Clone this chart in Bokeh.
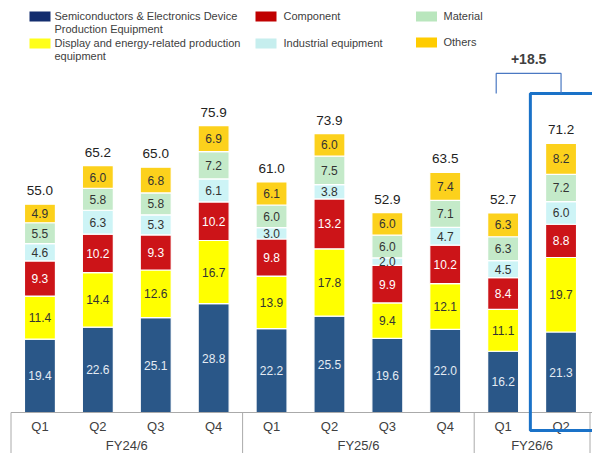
from bokeh.plotting import figure
from bokeh.models import Range1d, ColumnDataSource
from bokeh.core.properties import value
from bokeh.embed import file_html
from bokeh.resources import INLINE

# ---------------- data ----------------
quarters = ["Q1", "Q2", "Q3", "Q4", "Q1", "Q2", "Q3", "Q4", "Q1", "Q2"]
fiscal_years = ["FY24/6", "FY25/6", "FY26/6"]
fy_of_bar = [0, 0, 0, 0, 1, 1, 1, 1, 2, 2]

series_names = [
    "Semiconductors & Electronics Device\nProduction Equipment",
    "Display and energy-related production\nequipment",
    "Component",
    "Industrial equipment",
    "Material",
    "Others",
]
semiconductors = [19.4, 22.6, 25.1, 28.8, 22.2, 25.5, 19.6, 22.0, 16.2, 21.3]
display_energy = [11.4, 14.4, 12.6, 16.7, 13.9, 17.8, 9.4, 12.1, 11.1, 19.7]
component = [9.3, 10.2, 9.3, 10.2, 9.8, 13.2, 9.9, 10.2, 8.4, 8.8]
industrial = [4.6, 6.3, 5.3, 6.1, 3.0, 3.8, 2.0, 4.7, 4.5, 6.0]
material = [5.5, 5.8, 5.8, 7.2, 6.0, 7.5, 6.0, 7.1, 6.3, 7.2]
others = [4.9, 6.0, 6.8, 6.9, 6.1, 6.0, 6.0, 7.4, 6.3, 8.2]
totals = [55.0, 65.2, 65.0, 75.9, 61.0, 73.9, 52.9, 63.5, 52.7, 71.2]
change_label = "+18.5"
highlight_index = 9
compare_index = 8

# ---------------- style ----------------
bar_colors = ["#2a5788", "#ffff00", "#cc1418", "#cdf4f6", "#c4eac9", "#fcd11c"]
swatch_colors = ["#132d6e", "#ffff1a", "#c00000", "#c6eeee", "#b9e6bd", "#ffcc00"]
label_colors = ["#e4ebf3", "#333333", "#ffffff", "#333333", "#333333", "#333333"]
FONT = value("Liberation Sans")
TXT = "#404040"

W, H = 592, 453
PX_X = 57.9          # px per category
PX_Y = 3.78          # px per unit
X0_PX = 10.5 + 0.5 * PX_X
BASE_PX = 412
x_start = -X0_PX / PX_X
x_end = (W - X0_PX) / PX_X
y_end = BASE_PX / PX_Y
y_start = -(H - BASE_PX) / PX_Y


def dx(px):
    return x_start + px / PX_X


def dy(py):
    return y_end - py / PX_Y


p = figure(width=W, height=H, x_range=Range1d(x_start, x_end),
           y_range=Range1d(y_start, y_end), output_backend="svg",
           toolbar_location=None, x_axis_location=None, y_axis_location=None,
           min_border=0)
p.grid.visible = False
p.outline_line_color = None
p.background_fill_color = "white"
p.border_fill_color = "white"

xs = list(range(len(quarters)))
series = [semiconductors, display_energy, component, industrial, material, others]
keys = ["s%d" % i for i in range(len(series))]
src = ColumnDataSource(dict(x=xs, **{k: v for k, v in zip(keys, series)}))
p.vbar_stack(keys, x="x", width=0.535, color=bar_colors, source=src,
             line_color="white", line_width=1.2)

# segment labels
bottom = [0.0] * len(xs)
for vals, col in zip(series, label_colors):
    mids = [b + v / 2 for b, v in zip(bottom, vals)]
    p.text(x=xs, y=mids, text=["%.1f" % v for v in vals], text_align="center",
           text_baseline="middle", text_font=FONT, text_font_size="12px",
           text_color=col)
    bottom = [b + v for b, v in zip(bottom, vals)]

# totals
p.text(x=xs, y=bottom, text=["%.1f" % t for t in totals], text_align="center",
       text_baseline="bottom", y_offset=-9, text_font=FONT,
       text_font_size="13.5px", text_color="#222222")

# category axis
p.segment(x0=[-0.5], y0=[0], x1=[x_end], y1=[0], line_color="#aaaaaa", line_width=1)
bounds = [-0.5] + [i + 0.5 for i in range(len(xs) - 1) if fy_of_bar[i] != fy_of_bar[i + 1]] + [len(xs) - 0.5]
p.segment(x0=bounds, y0=[0] * len(bounds), x1=bounds, y1=[y_start] * len(bounds),
          line_color="#aaaaaa", line_width=1)
p.text(x=xs, y=[dy(426)] * len(xs), text=quarters, text_align="center",
       text_baseline="middle", text_font=FONT, text_font_size="13px", text_color=TXT)
fy_x = [sum(i for i in xs if fy_of_bar[i] == k) / fy_of_bar.count(k) for k in range(len(fiscal_years))]
p.text(x=fy_x, y=[dy(445)] * len(fy_x), text=fiscal_years, text_align="center",
       text_baseline="middle", text_font=FONT, text_font_size="13px", text_color=TXT)

# highlight box for latest quarter
hl_top = totals[highlight_index] + 13.2
hl_bottom = dy(430)
hl_left = highlight_index - 0.53
hl_right = x_end + 0.2
p.quad(left=[hl_left], right=[hl_right], top=[hl_top], bottom=[hl_bottom],
       fill_color=None, line_color="#1a72c8", line_width=3)

# bracket with change
br_top = hl_top + 5.3
br_l = compare_index - 0.12
br_r = float(highlight_index)
p.line(x=[br_l, br_l, br_r, br_r], y=[hl_top, br_top, br_top, hl_top],
       line_color="#4a78c2", line_width=1.2)
p.text(x=[(br_l + br_r) / 2], y=[br_top], text=[change_label], text_align="center",
       text_baseline="bottom", y_offset=-9, text_font=FONT, text_font_size="14px",
       text_font_style="bold", text_color=TXT)

# legend (manual, 3 columns x 2 rows)
leg_sw_x = [39.5, 39.5, 265.5, 265.5, 426, 426]
leg_sw_y = [16, 43, 16, 43, 16, 42]
leg_tx_x = [54, 54, 283, 283, 443, 443]
order = [0, 1, 2, 3, 4, 5]
p.rect(x=[dx(v) for v in leg_sw_x], y=[dy(v) for v in leg_sw_y], width=21, height=10,
       width_units="screen", height_units="screen",
       fill_color=[swatch_colors[i] for i in order], line_color=None)
lx, ly, lt = [], [], []
for k, i in enumerate(order):
    for j, line in enumerate(series_names[i].split("\n")):
        lx.append(dx(leg_tx_x[k]))
        ly.append(dy(leg_sw_y[k] - 1 + 13 * j))
        lt.append(line)
p.text(x=lx, y=ly, text=lt, text_align="left", text_baseline="middle",
       text_font=FONT, text_font_size="11px", text_color=TXT)

open("out.html", "w").write(file_html(p, INLINE))
